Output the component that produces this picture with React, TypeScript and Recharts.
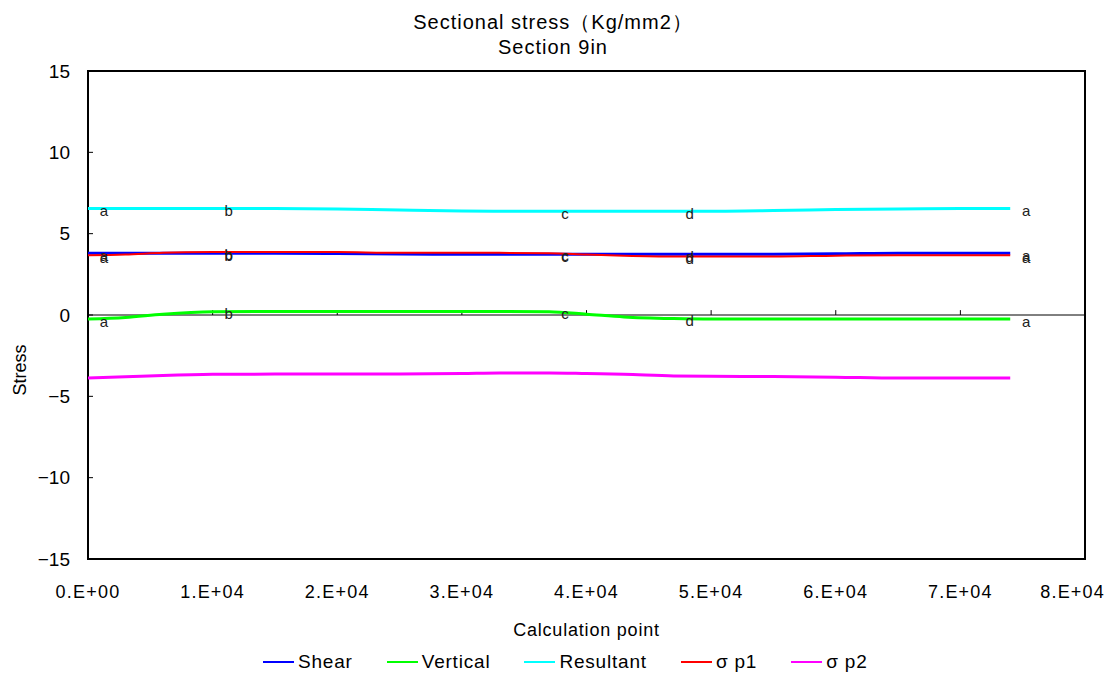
import {
  LineChart,
  Line,
  XAxis,
  YAxis,
  Label,
  Legend,
  LabelList,
  ReferenceLine,
  ReferenceArea,
} from "recharts";

// 計算点 (Calculation point)
const calcPoints = [0, 3000, 6000, 10000, 15000, 20000, 25000, 30000, 33000, 37000, 40000, 43000, 47000, 50000, 55000, 60000, 65000, 70000, 74000];
const shear = [3.8, 3.8, 3.8, 3.8, 3.8, 3.78, 3.75, 3.73, 3.73, 3.73, 3.73, 3.73, 3.73, 3.73, 3.74, 3.76, 3.8, 3.8, 3.8];
const vertical = [-0.25, -0.15, 0.05, 0.2, 0.22, 0.22, 0.22, 0.22, 0.22, 0.2, 0.05, -0.12, -0.22, -0.25, -0.25, -0.25, -0.25, -0.25, -0.25];
const resultant = [6.55, 6.55, 6.55, 6.55, 6.55, 6.52, 6.45, 6.4, 6.38, 6.38, 6.38, 6.38, 6.38, 6.38, 6.42, 6.48, 6.52, 6.55, 6.55];
const sigmaP1 = [3.67, 3.72, 3.82, 3.87, 3.88, 3.87, 3.82, 3.82, 3.82, 3.8, 3.72, 3.65, 3.6, 3.6, 3.6, 3.65, 3.68, 3.68, 3.68];
const sigmaP2 = [-3.87, -3.8, -3.72, -3.65, -3.63, -3.63, -3.63, -3.6, -3.56, -3.56, -3.6, -3.65, -3.75, -3.77, -3.78, -3.82, -3.88, -3.88, -3.88];
const marks = ["a", "", "", "b", "", "", "", "", "", "c", "", "", "d", "", "", "", "", "", "a"];

const xTicks = [0, 10000, 20000, 30000, 40000, 50000, 60000, 70000, 80000];
const xTickLabels = ["0.E+00", "1.E+04", "2.E+04", "3.E+04", "4.E+04", "5.E+04", "6.E+04", "7.E+04", "8.E+04"];
const yTicks = [-15, -10, -5, 0, 5, 10, 15];
const zeroTicks = [10000, 20000, 30000, 40000, 50000, 60000, 70000];

const series = [
  { key: "shear", name: "Shear", color: "#0000ff", width: 3, legendWidth: 2 },
  { key: "vertical", name: "Vertical", color: "#00ff00", width: 3, legendWidth: 2 },
  { key: "resultant", name: "Resultant", color: "#00ffff", width: 3, legendWidth: 2 },
  { key: "p1", name: "σ p1", color: "#ff0000", width: 2, legendWidth: 2 },
  { key: "p2", name: "σ p2", color: "#ff00ff", width: 3, legendWidth: 2 },
];

const data = calcPoints.map((x, i) => ({
  x,
  shear: shear[i],
  vertical: vertical[i],
  resultant: resultant[i],
  p1: sigmaP1[i],
  p2: sigmaP2[i],
  mark: marks[i],
}));

const FONT = "'Liberation Sans', Arial, sans-serif";

function YTick({ x, y, payload }: any) {
  const v = payload.value < 0 ? `−${Math.abs(payload.value)}` : `${payload.value}`;
  return (
    <g>
      <line x1={x + 18} x2={x + 23} y1={y} y2={y} stroke="#000" strokeWidth={1} />
      <text x={x} y={y} textAnchor="end" dominantBaseline="central" fontSize={19} fontFamily={FONT} fill="#000">
        {v}
      </text>
    </g>
  );
}

// 最後のラベルは右端に収まるよう左寄せ
function XTick({ x, y, payload, index }: any) {
  const last = index === xTicks.length - 1;
  return (
    <text
      x={last ? x + 20 : x}
      y={y}
      textAnchor={last ? "end" : "middle"}
      dominantBaseline="central"
      fontSize={18}
      letterSpacing={1.2}
      fontFamily={FONT}
      fill="#000"
    >
      {xTickLabels[xTicks.indexOf(payload.value)]}
    </text>
  );
}

function renderMark(props: any) {
  const { x, y, value } = props;
  if (!value) return null;
  return (
    <text x={x + 16} y={y + 2} textAnchor="middle" dominantBaseline="central" fontSize={15} fontFamily={FONT} fill="#222">
      {value}
    </text>
  );
}

function StressLegend() {
  return (
    <div
      style={{
        display: "flex",
        justifyContent: "flex-start",
        alignItems: "center",
        gap: 34,
        fontFamily: FONT,
        fontSize: 19,
        lineHeight: "20px",
        letterSpacing: 0.8,
        paddingTop: 12,
        paddingLeft: 235,
      }}
    >
      {series.map((s) => (
        <div key={s.key} style={{ display: "flex", alignItems: "center" }}>
          <span
            style={{
              display: "inline-block",
              width: 31,
              height: s.legendWidth,
              background: s.color,
              marginRight: 4,
            }}
          />
          <span>{s.name}</span>
        </div>
      ))}
    </div>
  );
}

export default function App() {
  return (
    <div style={{ position: "relative", width: 1098, height: 669 }}>
      <div
        style={{
          position: "absolute",
          left: 0,
          top: 2,
          width: 1090,
          textAlign: "center",
          fontFamily: FONT,
          fontSize: 20,
          letterSpacing: 1,
          lineHeight: "25px",
        }}
      >
        <div>Sectional stress（Kg/mm2）</div>
        <div>Section 9in</div>
      </div>
      <LineChart width={1098} height={669} data={data} margin={{ top: 63, right: 21, left: 20, bottom: 0 }}>
        <ReferenceArea x1={0} x2={80000} y1={-15} y2={15} fill="none" stroke="#000" strokeWidth={2} ifOverflow="visible" />
        <XAxis
          dataKey="x"
          type="number"
          domain={[0, 80000]}
          ticks={xTicks}
          axisLine={false}
          tickLine={false}
          tickSize={0}
          tickMargin={33}
          height={81}
          interval={0}
          tick={<XTick />}
        >
          <Label value="Calculation point" position="insideBottom" offset={4} style={{ fontSize: 18, fontFamily: FONT, fill: "#000", letterSpacing: 0.8 }} />
        </XAxis>
        <YAxis
          type="number"
          domain={[-15, 15]}
          ticks={yTicks}
          axisLine={false}
          tickLine={false}
          tickSize={0}
          tickMargin={18}
          width={60}
          tick={<YTick />}
        >
          <Label
            content={({ viewBox }: any) => {
              const lx = viewBox.x - 8;
              const ly = viewBox.y + viewBox.height / 2 + 55;
              return (
                <text
                  x={lx}
                  y={ly}
                  transform={`rotate(-90, ${lx}, ${ly})`}
                  textAnchor="middle"
                  dominantBaseline="central"
                  fontSize={18}
                  fontFamily={FONT}
                  fill="#000"
                >
                  Stress
                </text>
              );
            }}
          />
        </YAxis>
        <ReferenceLine y={0} stroke="#000" strokeWidth={1} />
        {zeroTicks.map((t) => (
          <ReferenceLine key={t} segment={[{ x: t, y: 0 }, { x: t, y: 0.3 }]} stroke="#000" strokeWidth={1} />
        ))}
        <Legend verticalAlign="bottom" height={37} content={<StressLegend />} />
        {series.map((s) => (
          <Line
            key={s.key}
            type="monotone"
            dataKey={s.key}
            name={s.name}
            stroke={s.color}
            strokeWidth={s.width}
            dot={false}
            isAnimationActive={false}
          >
            {s.key !== "p2" && <LabelList dataKey="mark" content={renderMark} />}
          </Line>
        ))}
      </LineChart>
    </div>
  );
}
